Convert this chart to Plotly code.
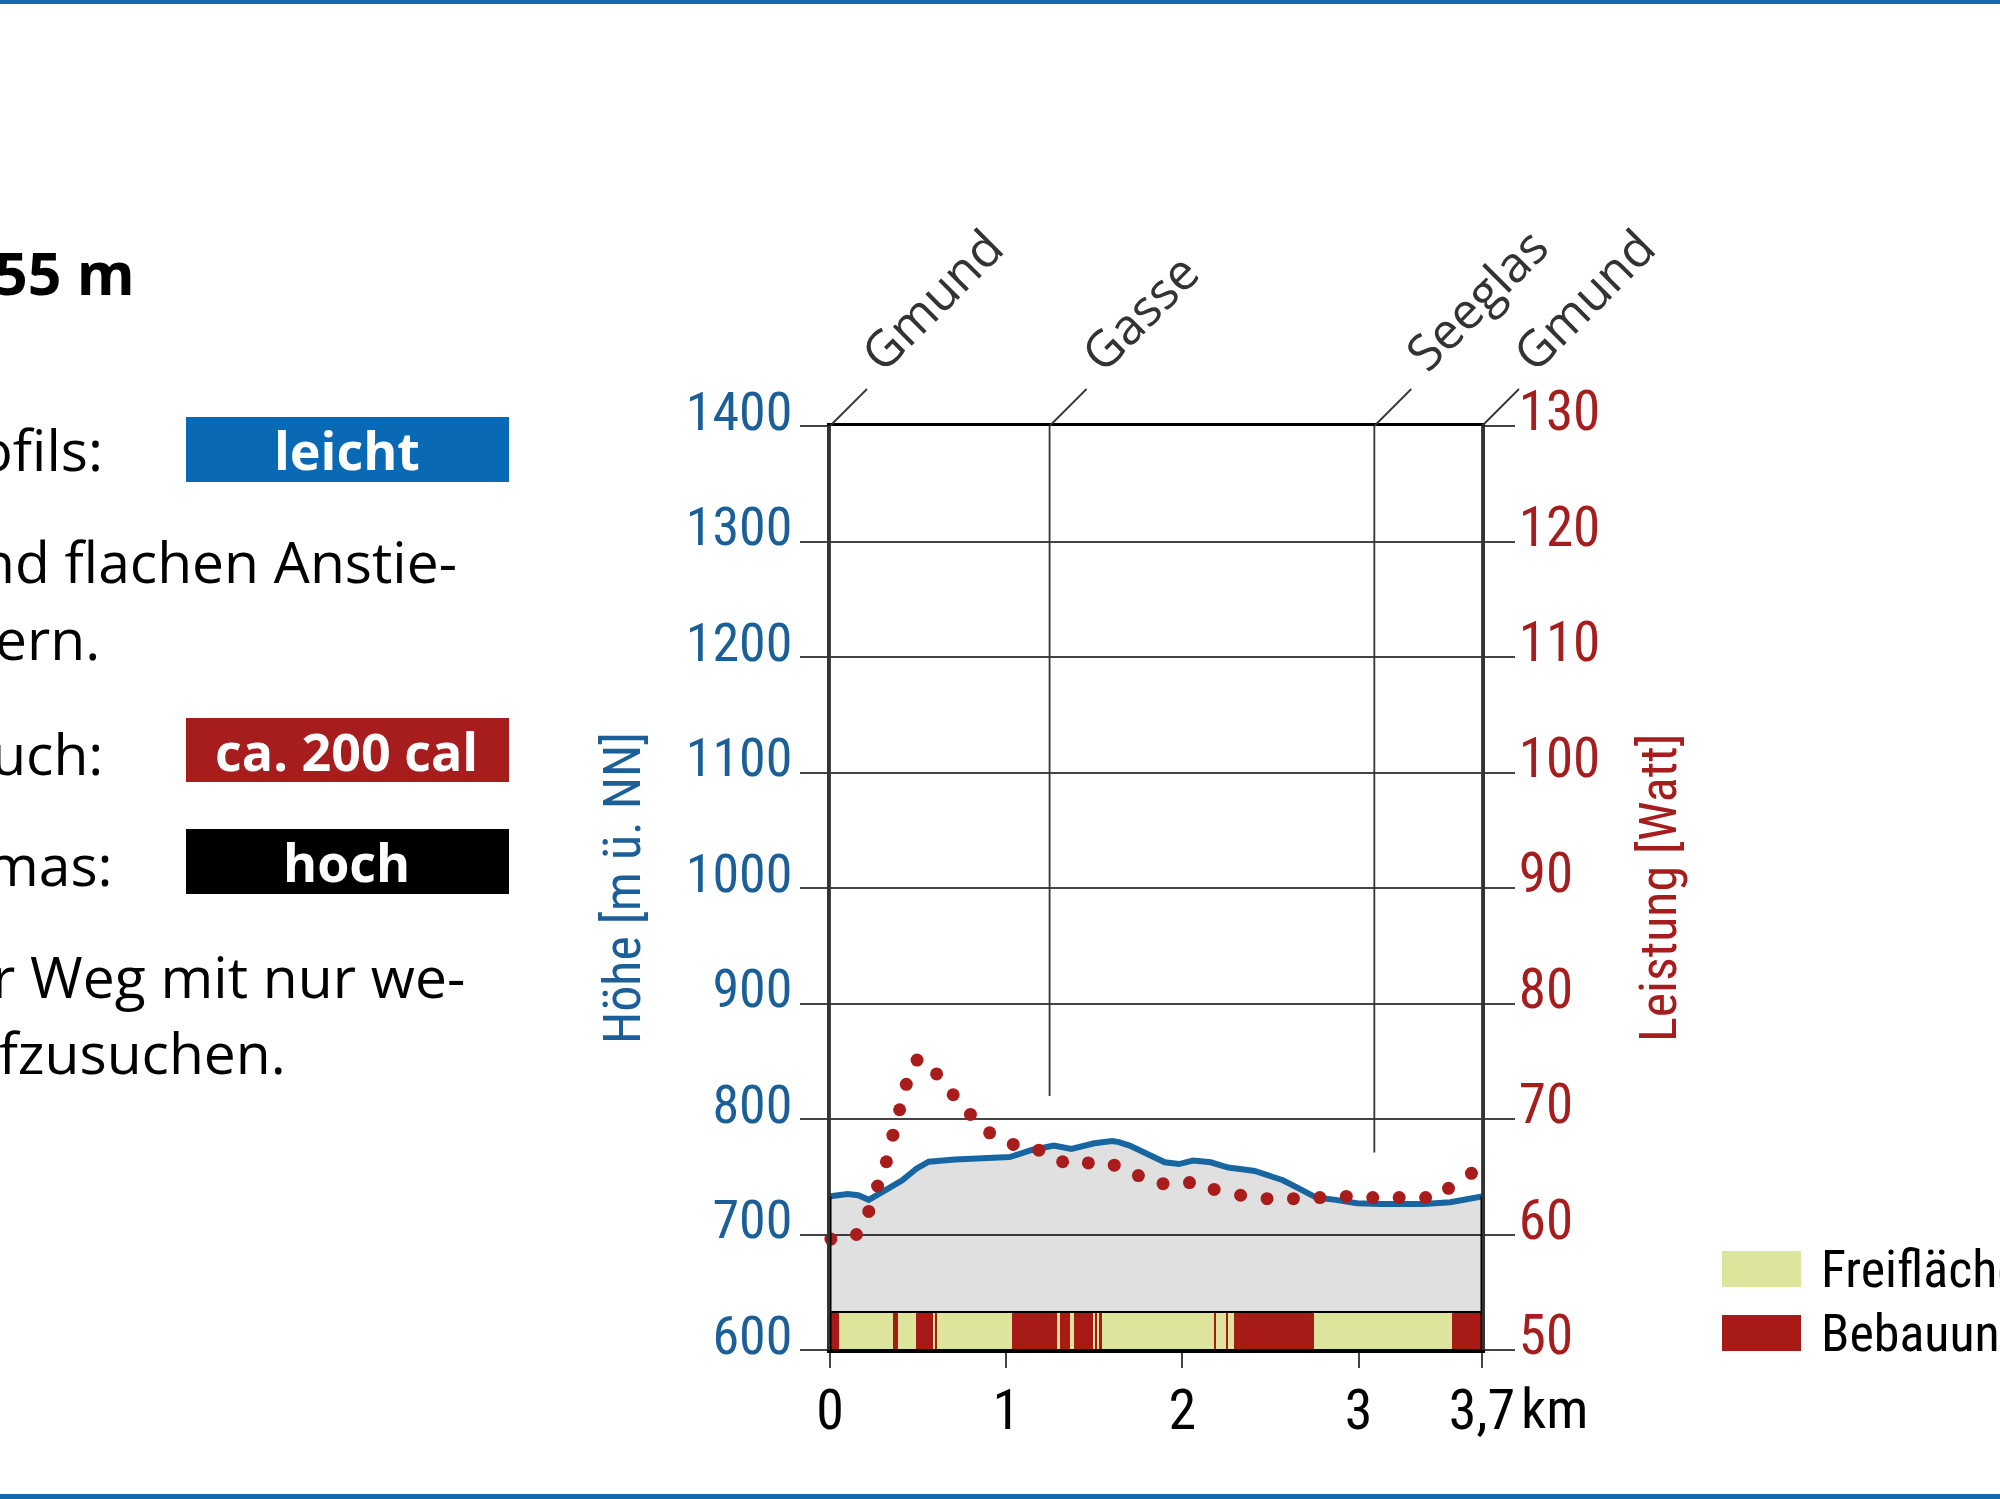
import plotly.graph_objects as go

# ---------------- data ----------------
elev_km = [0.0, 0.10, 0.16, 0.22, 0.31, 0.41, 0.49, 0.56, 0.71, 0.92, 1.02, 1.14, 1.27, 1.37,
           1.50, 1.60, 1.64, 1.70, 1.80, 1.90, 1.98, 2.06, 2.16, 2.26, 2.36, 2.41, 2.51, 2.57,
           2.66, 2.76, 2.87, 2.99, 3.12, 3.37, 3.52, 3.70]
elev_m = [733, 735, 734, 730, 738, 747, 757, 763, 765, 767, 767, 773, 777, 774,
          779, 781, 780, 777, 770, 762.5, 761, 764, 762.5, 758, 756, 755, 750, 747,
          740, 732, 730, 727, 726.5, 726.5, 728, 733]

power_km = [0.005, 0.15, 0.22, 0.27, 0.32, 0.357, 0.395, 0.433, 0.494, 0.605, 0.699, 0.797,
            0.906, 1.04, 1.185, 1.32, 1.466, 1.613, 1.75, 1.89, 2.04, 2.18, 2.33, 2.48,
            2.63, 2.78, 2.93, 3.08, 3.23, 3.38, 3.51, 3.64]
power_w = [59.6, 60.0, 62.0, 64.2, 66.3, 68.6, 70.8, 73.0, 75.1, 73.9, 72.1, 70.4,
           68.8, 67.8, 67.3, 66.3, 66.2, 66.0, 65.1, 64.4, 64.5, 63.9, 63.4, 63.1,
           63.1, 63.2, 63.3, 63.2, 63.2, 63.2, 64.0, 65.3]

band_edges = [0, 0.053, 0.356, 0.384, 0.486, 0.586, 0.596, 0.605, 1.032, 1.288, 1.303, 1.361,
              1.386, 1.495, 1.505, 1.514, 1.524, 1.546, 2.181, 2.190, 2.249, 2.258, 2.290,
              2.747, 3.527, 3.7]
band_types = ['B', 'F', 'B', 'F', 'B', 'F', 'B', 'F', 'B', 'F', 'B', 'F', 'B', 'F', 'B', 'F',
              'B', 'F', 'B', 'F', 'B', 'F', 'B', 'F', 'B']
band_names = {'F': 'Freiflächen', 'B': 'Bebauung'}

place_names = ['Gmund', 'Gasse', 'Seeglas', 'Gmund']
place_km = [0.0, 1.246, 3.089, 3.7]
place_line_bottom = [600, 820, 771, 600]

x_tickvals = [0, 1, 2, 3, 3.7]
x_ticktext = ['0', '1', '2', '3', '3,7']

# ---------------- styles ----------------
NARROW = "Liberation Sans Narrow, Arial Narrow, Roboto Condensed, DejaVu Sans Condensed, sans-serif"
SANS = "Open Sans, Noto Sans, sans-serif"
BLUE = "#1a5f97"
LINEBLUE = "#1766a2"
RED = "#a51d1d"
DOTRED = "#a81c1c"
BAND_COL = {'F': '#dce59b', 'B': '#a81a16'}
BOX_BLUE = "#0a69b4"

W, H = 2000, 1499
L, R, T, B = 830, 2000 - 1482, 426, 1499 - 1350
PW, PH = W - L - R, H - T - B
XMAX = 3.7


def px2x(px):
    return (px - L) / PW


def py2y(py):
    return (H - B - py) / PH


BAND_TOP = 633

fig = go.Figure()

# baseline for grey fill (top of land-use band)
fig.add_trace(go.Scatter(x=[elev_km[0], elev_km[-1]], y=[BAND_TOP, BAND_TOP], mode='lines',
                         line=dict(width=0, color='rgba(0,0,0,0)'), showlegend=False,
                         hoverinfo='skip'))
fig.add_trace(go.Scatter(x=elev_km, y=elev_m, mode='lines', fill='tonexty',
                         fillcolor='rgba(0,0,0,0.12)', line=dict(color=LINEBLUE, width=6),
                         name='Höhe', showlegend=False))

# land-use band
for t in ['F', 'B']:
    xs, ws = [], []
    for i, bt in enumerate(band_types):
        if bt == t:
            a, b = band_edges[i], band_edges[i + 1]
            xs.append((a + b) / 2)
            ws.append(b - a)
    fig.add_trace(go.Bar(x=xs, width=ws, y=[BAND_TOP - 600] * len(xs), base=600,
                         marker=dict(color=BAND_COL[t], line=dict(width=0)),
                         name=band_names[t], showlegend=False))

# power dots
fig.add_trace(go.Scatter(x=power_km, y=power_w, yaxis='y2', mode='markers',
                         marker=dict(color=DOTRED, size=13), cliponaxis=False,
                         name='Leistung', showlegend=False))

shapes = []
annotations = []

# band outline
shapes.append(dict(type='rect', xref='x', yref='y', x0=0, x1=XMAX, y0=600, y1=BAND_TOP,
                   line=dict(color='black', width=2), layer='above'))

# place marker lines, diagonal ticks and labels
for name, km, bot in zip(place_names, place_km, place_line_bottom):
    shapes.append(dict(type='line', xref='x', yref='y', x0=km, x1=km, y0=bot, y1=1400,
                       line=dict(color='#333', width=1.8), layer='above'))
    shapes.append(dict(type='line', xref='paper', xsizemode='pixel', xanchor=km / XMAX,
                       x0=0, x1=37, yref='paper', ysizemode='pixel', yanchor=1, y0=0, y1=37,
                       line=dict(color='#333', width=1.8)))
    annotations.append(dict(text=name, x=km, y=1400, xref='x', yref='y', xanchor='left',
                            yanchor='bottom', xshift=13, yshift=38, textangle=-45,
                            showarrow=False, font=dict(family=SANS, size=50, color='#333')))

# black side edges of the profile fill
for km, el in [(elev_km[0], elev_m[0]), (elev_km[-1], elev_m[-1])]:
    shapes.append(dict(type='line', xref='x', yref='y', x0=km, x1=km, y0=600, y1=el,
                       line=dict(color='black', width=3), layer='above'))

# km unit
annotations.append(dict(text='km', x=XMAX, y=0, xref='x', yref='paper', xanchor='left',
                        yanchor='middle', xshift=37, yshift=-59, showarrow=False,
                        font=dict(family=NARROW, size=56, color='black')))

# axis titles
annotations.append(dict(text='Höhe [m ü. NN]', x=px2x(622), y=0.5, xref='paper', yref='paper',
                        xanchor='center', yanchor='middle', textangle=-90, showarrow=False,
                        font=dict(family=NARROW, size=52, color=BLUE)))
annotations.append(dict(text='Leistung [Watt]', x=px2x(1658), y=0.5, xref='paper', yref='paper',
                        xanchor='center', yanchor='middle', textangle=-90, showarrow=False,
                        font=dict(family=NARROW, size=52, color=RED)))

# legend
for label, key, y0, y1 in [('Freiflächen', 'F', 1251, 1287), ('Bebauung', 'B', 1315, 1351)]:
    shapes.append(dict(type='rect', xref='paper', yref='paper', x0=px2x(1722), x1=px2x(1801),
                       y0=py2y(y1), y1=py2y(y0), fillcolor=BAND_COL[key], line=dict(width=0)))
    annotations.append(dict(text=label, x=px2x(1819), y=py2y((y0 + y1) / 2), xref='paper',
                            yref='paper', xanchor='left', yanchor='middle', showarrow=False,
                            font=dict(family=NARROW, size=52, color='black')))

# left info panel
info_lines = [('<b>55 m</b>', 137, 272, 59), ('Profils:', 105, 449, 57),
              ('und flachen Anstie-', 459, 561, 57), ('ern.', 102, 638, 57),
              ('Verbrauch:', 105, 753, 57), ('mas:', 115, 864, 57),
              ('r Weg mit nur we-', 467, 976, 57), ('aufzusuchen.', 288, 1052, 57)]
for txt, rx, cy, fs in info_lines:
    annotations.append(dict(text=txt, x=px2x(rx), y=py2y(cy), xref='paper', yref='paper',
                            xanchor='right', yanchor='middle', showarrow=False,
                            font=dict(family=SANS, size=fs, color='black')))
for txt, col, y0, y1 in [('leicht', BOX_BLUE, 417, 482), ('ca. 200 cal', '#a71c1c', 718, 782),
                         ('hoch', '#000000', 829, 894)]:
    shapes.append(dict(type='rect', xref='paper', yref='paper', x0=px2x(186), x1=px2x(509),
                       y0=py2y(y1), y1=py2y(y0), fillcolor=col, line=dict(width=0)))
    annotations.append(dict(text='<b>' + txt + '</b>', x=px2x(347), y=py2y((y0 + y1) / 2),
                            xref='paper', yref='paper', xanchor='center', yanchor='middle',
                            showarrow=False, font=dict(family=SANS, size=52, color='white')))

# blue frame lines
shapes.append(dict(type='rect', xref='paper', yref='paper', x0=px2x(0), x1=px2x(2000),
                   y0=py2y(4), y1=py2y(0), fillcolor='#1468b0', line=dict(width=0)))
shapes.append(dict(type='rect', xref='paper', yref='paper', x0=px2x(0), x1=px2x(2000),
                   y0=py2y(1499), y1=py2y(1494), fillcolor='#1468b0', line=dict(width=0)))

fig.update_layout(
    width=W, height=H,
    margin=dict(l=L, r=R, t=T, b=B, pad=0),
    paper_bgcolor='white', plot_bgcolor='white',
    barmode='overlay', bargap=0,
    showlegend=False,
    xaxis=dict(range=[0, XMAX], showgrid=False, zeroline=False, showline=True, mirror=True,
               linecolor='black', linewidth=2.5, ticks='outside', ticklen=15,
               tickcolor='#444', tickwidth=1.5, tickvals=x_tickvals, ticktext=x_ticktext,
               tickfont=dict(family=NARROW, size=56, color='black'), ticklabelstandoff=-6),
    yaxis=dict(range=[600, 1400], dtick=100, showgrid=True, gridcolor='#444', gridwidth=1.5,
               zeroline=False, showline=True, linecolor='#333', linewidth=2.5,
               ticks='outside', ticklen=27, tickcolor='#444', tickwidth=1.5,
               tickfont=dict(family=NARROW, size=54, color=BLUE), ticklabelshift=-15,
               ticklabelstandoff=-3),
    yaxis2=dict(range=[50, 130], dtick=10, overlaying='y', side='right', showgrid=False,
                zeroline=False, showline=True, linecolor='#333', linewidth=2.5,
                ticks='outside', ticklen=30, tickcolor='#444', tickwidth=1.5,
                tickfont=dict(family=NARROW, size=55, color=RED), ticklabelshift=-15,
                ticklabelstandoff=-7),
    shapes=shapes, annotations=annotations,
)

fig.write_html("out.html", config={'displayModeBar': False},
               post_script="document.body.style.margin='0';")
